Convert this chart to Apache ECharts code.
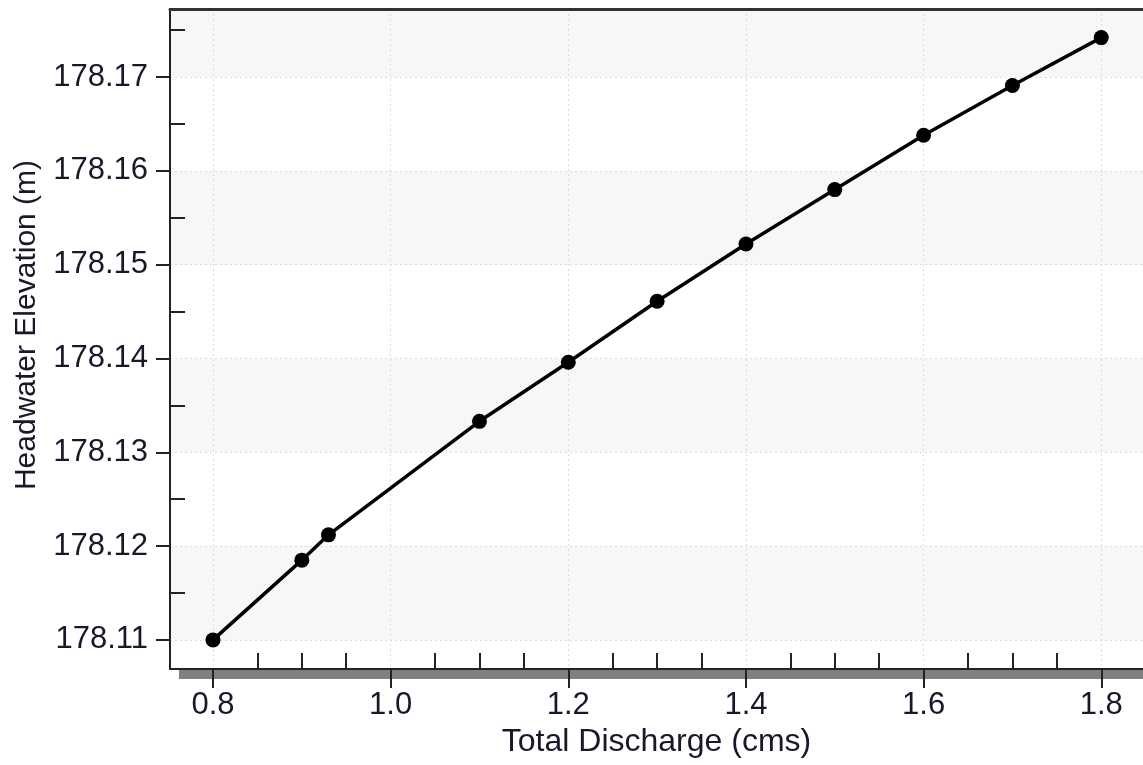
<!DOCTYPE html>
<html>
<head>
<meta charset="utf-8">
<script src="https://cdn.jsdelivr.net/npm/echarts@6/dist/echarts.min.js"></script>
<style>
html,body{margin:0;padding:0;background:#fff;}
#chart{width:1143px;height:765px;}
</style>
</head>
<body>
<div id="chart"></div>
<script>
// ---- data ----
var discharge = [0.8, 0.9, 0.93, 1.1, 1.2, 1.3, 1.4, 1.5, 1.6, 1.7, 1.8];
var elevation = [178.1100, 178.1185, 178.1212, 178.1333, 178.1396, 178.1461, 178.1522, 178.1580, 178.1638, 178.1691, 178.1742];
var xTickLabels = [0.8, 1.0, 1.2, 1.4, 1.6, 1.8];
var xMinorTicks = [0.85, 0.9, 0.95, 1.05, 1.1, 1.15, 1.25, 1.3, 1.35, 1.45, 1.5, 1.55, 1.65, 1.7, 1.75];
var yTickLabels = [178.11, 178.12, 178.13, 178.14, 178.15, 178.16, 178.17];
var yMinorTicks = [178.115, 178.125, 178.135, 178.145, 178.155, 178.165, 178.175];
var xRange = [0.7516, 1.847];
var yRange = [178.1069, 178.17725];

var pts = discharge.map(function (x, i) { return [x, elevation[i]]; });

var FONT = "'Liberation Sans', Arial, sans-serif";
var TXT = '#18182a';
var AX = '#222222';

var chart = echarts.init(document.getElementById('chart'), null, {renderer: 'canvas'});
chart.setOption({
  animation: false,
  backgroundColor: '#ffffff',
  grid: {left: 170, top: 9, right: 0, bottom: 96, containLabel: false},
  graphic: [{
    type: 'rect', left: 179, top: 670, z: 0,
    shape: {width: 964, height: 9},
    style: {fill: '#808080'}
  }],
  xAxis: [{
    type: 'value', position: 'bottom', min: xRange[0], max: xRange[1], splitNumber: 5, z: 10,
    axisLine: {show: true, onZero: false, lineStyle: {color: AX, width: 2}},
    axisTick: {show: true, inside: false, length: 19, customValues: xTickLabels, lineStyle: {color: AX, width: 2}},
    axisLabel: {show: true, customValues: xTickLabels, margin: 21, fontSize: 31, fontFamily: FONT, color: TXT,
      formatter: function (v) { return v.toFixed(1); }},
    splitLine: {show: true, lineStyle: {color: '#dcdcdc', type: [2, 3], width: 1}},
    name: 'Total Discharge (cms)', nameLocation: 'middle', nameGap: 57,
    nameTextStyle: {fontSize: 32, fontFamily: FONT, color: TXT}
  }, {
    type: 'value', position: 'bottom', min: xRange[0], max: xRange[1], z: 10,
    axisLine: {show: false, onZero: false},
    axisTick: {show: true, inside: true, length: 16, customValues: xMinorTicks, lineStyle: {color: AX, width: 2}},
    axisLabel: {show: false},
    splitLine: {show: false}
  }, {
    type: 'value', position: 'top', min: xRange[0], max: xRange[1], z: 10,
    axisLine: {show: true, onZero: false, lineStyle: {color: '#333333', width: 3}},
    axisTick: {show: false}, axisLabel: {show: false}, splitLine: {show: false}
  }],
  yAxis: [{
    type: 'value', position: 'left', min: yRange[0], max: yRange[1], splitNumber: 7, z: 10,
    axisLine: {show: true, onZero: false, lineStyle: {color: AX, width: 2}},
    axisTick: {show: true, inside: false, length: 14, customValues: yTickLabels, lineStyle: {color: AX, width: 2}},
    axisLabel: {show: true, customValues: yTickLabels, margin: 22, fontSize: 31, fontFamily: FONT, color: TXT,
      formatter: function (v) { return v.toFixed(2); }},
    splitLine: {show: true, lineStyle: {color: '#dcdcdc', type: [2, 3], width: 1}},
    splitArea: {show: true, areaStyle: {color: ['#f7f7f7', '#ffffff']}},
    name: 'Headwater Elevation (m)', nameLocation: 'middle', nameGap: 128,
    nameTextStyle: {fontSize: 30, fontFamily: FONT, color: TXT, padding: [0, 0, 0, 28]}
  }, {
    type: 'value', position: 'left', min: yRange[0], max: yRange[1], z: 10,
    axisLine: {show: false, onZero: false},
    axisTick: {show: true, inside: true, length: 15, customValues: yMinorTicks, lineStyle: {color: AX, width: 2}},
    axisLabel: {show: false},
    splitLine: {show: false}
  }],
  series: [{
    type: 'line', xAxisIndex: 0, yAxisIndex: 0, data: pts,
    symbol: 'circle', symbolSize: 15,
    lineStyle: {color: '#000000', width: 3.5},
    itemStyle: {color: '#000000'},
    z: 20,
    markArea: {
      silent: true,
      itemStyle: {color: 'rgba(0,0,0,0.03)'},
      data: [[{yAxis: yTickLabels[yTickLabels.length - 1]}, {yAxis: yRange[1]}]]
    }
  }]
});
</script>
</body>
</html>
